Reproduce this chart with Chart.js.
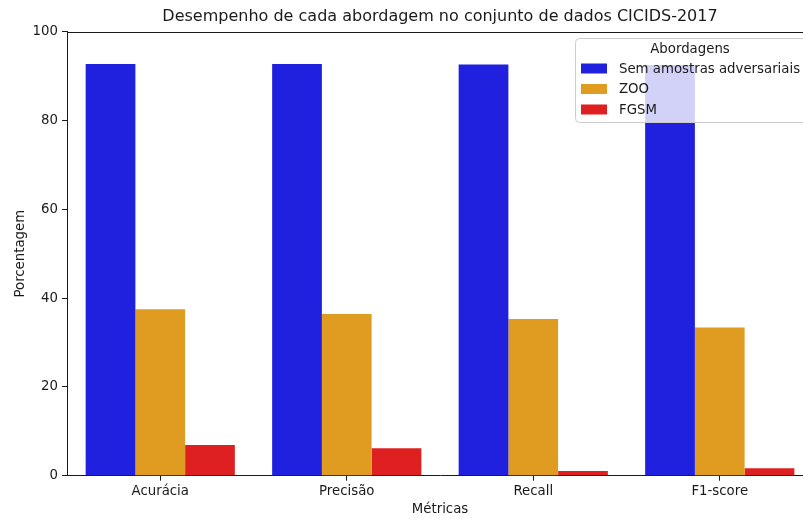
<!DOCTYPE html>
<html>
<head>
<meta charset="utf-8">
<script src="https://cdn.jsdelivr.net/npm/chart.js@4"></script>
<style>
  html, body { margin: 0; padding: 0; background: #fff; overflow: hidden; }
  #wrap { width: 803px; height: 519px; overflow: hidden; }
  canvas { display: block; }
</style>
</head>
<body>
<div id="wrap"><canvas id="chart" width="830" height="519"></canvas></div>
<script>
const metricas = ["Acurácia", "Precisão", "Recall", "F1-score"];
const abordagens = ["Sem amostras adversariais", "ZOO", "FGSM"];
const semAdversariais = [92.7, 92.7, 92.6, 92.5];
const zoo = [37.5, 36.4, 35.3, 33.4];
const fgsm = [6.9, 6.2, 1.05, 1.7];
const yTicks = [0, 20, 40, 60, 80, 100];
const cores = ["#2020df", "#df9c20", "#df2020"];
const titulo = "Desempenho de cada abordagem no conjunto de dados CICIDS-2017";

const FONT = "'DejaVu Sans', sans-serif";
const TXT = "#1a1a1a";
const SZ = 13.3;

// title centred on the axes, top spine and the legend over the plot area
const legendaPlugin = {
    id: "legenda",
    afterDraw(chart) {
        const ctx = chart.ctx;
        const area = chart.chartArea;
        ctx.save();
        ctx.fillStyle = TXT;
        ctx.font = "16px " + FONT;
        ctx.textAlign = "center";
        ctx.textBaseline = "middle";
        ctx.fillText(titulo, (area.left + area.right) / 2, 17);

        ctx.strokeStyle = TXT;
        ctx.lineWidth = 1;
        ctx.beginPath();
        ctx.moveTo(area.left, Math.round(area.top) + 0.5);
        ctx.lineTo(area.right, Math.round(area.top) + 0.5);
        ctx.stroke();

        const x = 575.5, y = 38.5, w = 232, h = 84;
        ctx.beginPath();
        ctx.roundRect(x, y, w, h, 4);
        ctx.fillStyle = "rgba(255,255,255,0.8)";
        ctx.fill();
        ctx.strokeStyle = "#cccccc";
        ctx.stroke();

        ctx.fillStyle = TXT;
        ctx.font = SZ + "px " + FONT;
        ctx.fillText("Abordagens", 690, 50);
        ctx.textAlign = "left";
        chart.data.datasets.forEach((ds, i) => {
            const cy = 68.5 + i * 20.5;
            ctx.fillStyle = ds.backgroundColor;
            ctx.fillRect(581, cy - 5, 26, 10);
            ctx.fillStyle = TXT;
            ctx.fillText(ds.label, 619, cy + 1);
        });
        ctx.restore();
    }
};

const series = [semAdversariais, zoo, fgsm];

new Chart(document.getElementById("chart"), {
    type: "bar",
    data: {
        labels: metricas,
        datasets: abordagens.map((nome, i) => ({
            label: nome,
            data: series[i],
            backgroundColor: cores[i],
            borderWidth: 0,
            categoryPercentage: 0.8,
            barPercentage: 1.0
        }))
    },
    options: {
        responsive: false,
        animation: false,
        layout: { padding: { left: 0, right: 17, top: 31.7, bottom: 0 } },
        plugins: {
            legend: { display: false },
            tooltip: { enabled: false },
            title: { display: false }
        },
        scales: {
            x: {
                offset: true,
                grid: { display: true, drawOnChartArea: false, offset: false, tickLength: 5, color: TXT },
                border: { display: true, color: TXT, width: 1 },
                ticks: { color: TXT, font: { family: FONT, size: SZ }, padding: 3, maxRotation: 0 },
                title: { display: true, text: "Métricas", color: TXT, font: { family: FONT, size: SZ }, padding: { top: 0, bottom: 1.2 } },
                afterFit(scale) { scale.height = 43.3; }
            },
            y: {
                min: 0,
                max: 100,
                afterBuildTicks(scale) { scale.ticks = yTicks.map(v => ({ value: v })); },
                grid: { display: true, drawOnChartArea: false, tickLength: 5, color: TXT },
                border: { display: true, color: TXT, width: 1 },
                ticks: { color: TXT, font: { family: FONT, size: SZ }, padding: 4 },
                title: { display: true, text: "Porcentagem", color: TXT, font: { family: FONT, size: SZ }, padding: { top: 13, bottom: 0 } },
                afterFit(scale) { scale.width = 67; }
            }
        }
    },
    plugins: [legendaPlugin]
});
</script>
</body>
</html>
